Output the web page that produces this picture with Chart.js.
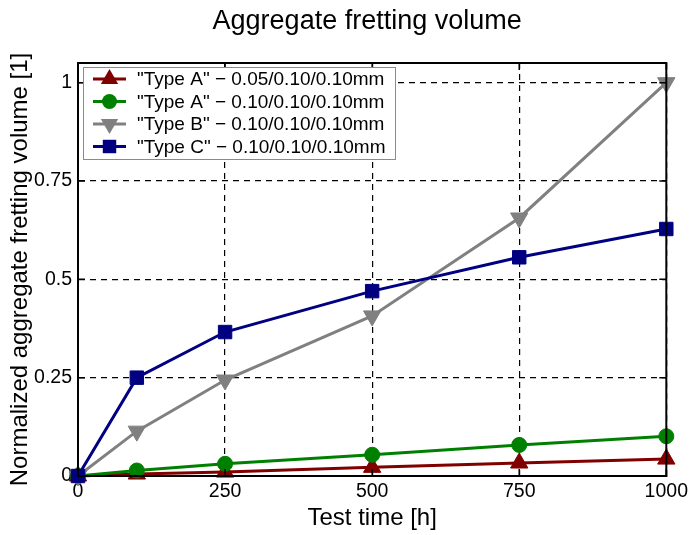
<!DOCTYPE html>
<html>
<head>
<meta charset="utf-8">
<script src="https://cdn.jsdelivr.net/npm/chart.js@4.4.1/dist/chart.umd.min.js"></script>
<style>
  html, body { margin: 0; padding: 0; background: #fff; }
  #wrap { width: 692px; height: 535px; }
</style>
</head>
<body>
<div id="wrap"><canvas id="fretting-chart" width="692" height="535"></canvas></div>
<script>
// test time in hours
const testHours = [0, 100, 250, 500, 750, 1000];

// normalized aggregate fretting volume per sample
const typeA005 = [0, 0.005, 0.010, 0.022, 0.033, 0.043];
const typeA010 = [0, 0.014, 0.031, 0.054, 0.079, 0.101];
const typeB = [0, 0.114, 0.244, 0.407, 0.656, 1.0];
const typeC = [0, 0.250, 0.366, 0.470, 0.556, 0.628];

const seriesLabels = [
  '"Type A" \u2212 0.05/0.10/0.10mm',
  '"Type A" \u2212 0.10/0.10/0.10mm',
  '"Type B" \u2212 0.10/0.10/0.10mm',
  '"Type C" \u2212 0.10/0.10/0.10mm'
];

const xTicks = [0, 250, 500, 750, 1000];
const yTicks = [0, 0.25, 0.5, 0.75, 1];

const chartTitle = 'Aggregate fretting volume';
const FONT = '"Liberation Sans", Arial, sans-serif';

const toPoints = (vals) => testHours.map((h, i) => ({ x: h, y: vals[i] }));

const makeSet = (label, vals, color, style, radius, rotation, order) => ({
  label: label,
  data: toPoints(vals),
  borderColor: color,
  backgroundColor: color,
  borderWidth: 3,
  pointStyle: style,
  pointRadius: radius,
  pointRotation: rotation,
  pointBorderWidth: 1,
  pointBorderColor: color,
  pointBackgroundColor: color,
  tension: 0,
  fill: false,
  clip: false,
  order: order
});

const datasets = [
  makeSet(seriesLabels[0], typeA005, '#800000', 'triangle', 10, 0, 4),
  makeSet(seriesLabels[1], typeA010, '#008000', 'circle', 7.5, 0, 3),
  makeSet(seriesLabels[2], typeB, '#808080', 'triangle', 10, 180, 2),
  makeSet(seriesLabels[3], typeC, '#000080', 'rect', 9.5, 0, 1)
];

// small marker drawer for the legend samples
function drawMarker(ctx, style, x, y, r, rot, color) {
  ctx.save();
  ctx.fillStyle = color;
  ctx.beginPath();
  if (style === 'circle') {
    ctx.arc(x, y, r, 0, Math.PI * 2);
  } else if (style === 'rect') {
    const s = r / Math.SQRT2;
    ctx.rect(x - s, y - s, s * 2, s * 2);
  } else {
    const a = rot === 180 ? Math.PI : 0;
    for (let k = 0; k < 3; k++) {
      const ang = a + k * 2 * Math.PI / 3 - Math.PI / 2;
      const px = x + Math.cos(ang) * r;
      const py = y + Math.sin(ang) * r;
      if (k === 0) ctx.moveTo(px, py); else ctx.lineTo(px, py);
    }
    ctx.closePath();
  }
  ctx.fill();
  ctx.restore();
}

// title over the plot, frame, inward ticks and the boxed legend
const framePlugin = {
  id: 'frame',
  afterDraw(chart) {
    const ctx = chart.ctx;
    const a = chart.chartArea;
    const xs = chart.scales.x;
    const ys = chart.scales.y;
    ctx.save();

    ctx.fillStyle = '#000';
    ctx.font = '27px ' + FONT;
    ctx.textAlign = 'center';
    ctx.textBaseline = 'middle';
    ctx.fillText(chartTitle, (a.left + a.right) / 2 - 5, 22);

    ctx.strokeStyle = '#000';
    ctx.lineWidth = 2;
    ctx.strokeRect(a.left, a.top, a.right - a.left, a.bottom - a.top);
    ctx.lineWidth = 1.5;
    ctx.beginPath();
    xTicks.forEach(v => {
      const px = xs.getPixelForValue(v);
      ctx.moveTo(px, a.bottom); ctx.lineTo(px, a.bottom - 7);
      ctx.moveTo(px, a.top); ctx.lineTo(px, a.top + 7);
    });
    yTicks.forEach(v => {
      const py = ys.getPixelForValue(v);
      ctx.moveTo(a.left, py); ctx.lineTo(a.left + 7, py);
      ctx.moveTo(a.right, py); ctx.lineTo(a.right - 7, py);
    });
    ctx.stroke();

    // legend
    const bx = a.left + 5, by = a.top + 4, bw = 312, bh = 92;
    ctx.fillStyle = '#fff';
    ctx.fillRect(bx, by, bw, bh);
    ctx.strokeStyle = '#8a8a8a';
    ctx.lineWidth = 1;
    ctx.strokeRect(bx + 0.5, by + 0.5, bw, bh);
    ctx.font = '19px ' + FONT;
    ctx.textBaseline = 'middle';
    ctx.textAlign = 'left';
    chart.data.datasets.forEach((ds, i) => {
      const y = by + 12 + i * 22.5;
      ctx.strokeStyle = ds.borderColor;
      ctx.lineWidth = 3;
      ctx.beginPath();
      ctx.moveTo(bx + 10, y);
      ctx.lineTo(bx + 43, y);
      ctx.stroke();
      drawMarker(ctx, ds.pointStyle, bx + 26.5, y, ds.pointRadius, ds.pointRotation, ds.borderColor);
      ctx.fillStyle = '#000';
      ctx.fillText(ds.label, bx + 54, y + 1);
    });
    ctx.restore();
  }
};

const chartCanvas = document.getElementById('fretting-chart');

const frettingChart = new Chart(chartCanvas, {
  type: 'line',
  data: { datasets: datasets },
  options: {
    responsive: false,
    animation: false,
    layout: { padding: { left: 6, right: 22, top: 63, bottom: 0 } },
    plugins: {
      legend: { display: false },
      tooltip: { enabled: false },
      title: { display: false }
    },
    scales: {
      x: {
        type: 'linear',
        min: 0,
        max: 1000,
        afterBuildTicks: (scale) => { scale.ticks = xTicks.map(v => ({ value: v })); },
        afterFit: (scale) => { scale.height = 59; },
        grid: { color: '#000', lineWidth: 1.2, drawTicks: false },
        border: { display: true, color: '#000', width: 2, dash: [6, 5] },
        ticks: {
          color: '#000',
          padding: 4,
          font: { family: FONT, size: 19.5 },
          callback: (v) => String(v)
        },
        title: {
          display: true,
          text: 'Test time [h]',
          color: '#000',
          font: { family: FONT, size: 24 },
          padding: { top: 0, bottom: 2 }
        }
      },
      y: {
        type: 'linear',
        min: 0,
        max: 1.05,
        afterBuildTicks: (scale) => { scale.ticks = yTicks.map(v => ({ value: v })); },
        afterFit: (scale) => { scale.width = 72; },
        grid: { color: '#000', lineWidth: 1.2, drawTicks: false },
        border: { display: true, color: '#000', width: 2, dash: [6, 5] },
        ticks: {
          color: '#000',
          padding: 6,
          font: { family: FONT, size: 19.5 },
          callback: (v) => String(v)
        },
        title: {
          display: true,
          text: 'Normalized aggregate fretting volume [1]',
          color: '#000',
          font: { family: FONT, size: 24 },
          padding: 0
        }
      }
    }
  },
  plugins: [framePlugin]
});
</script>
</body>
</html>
